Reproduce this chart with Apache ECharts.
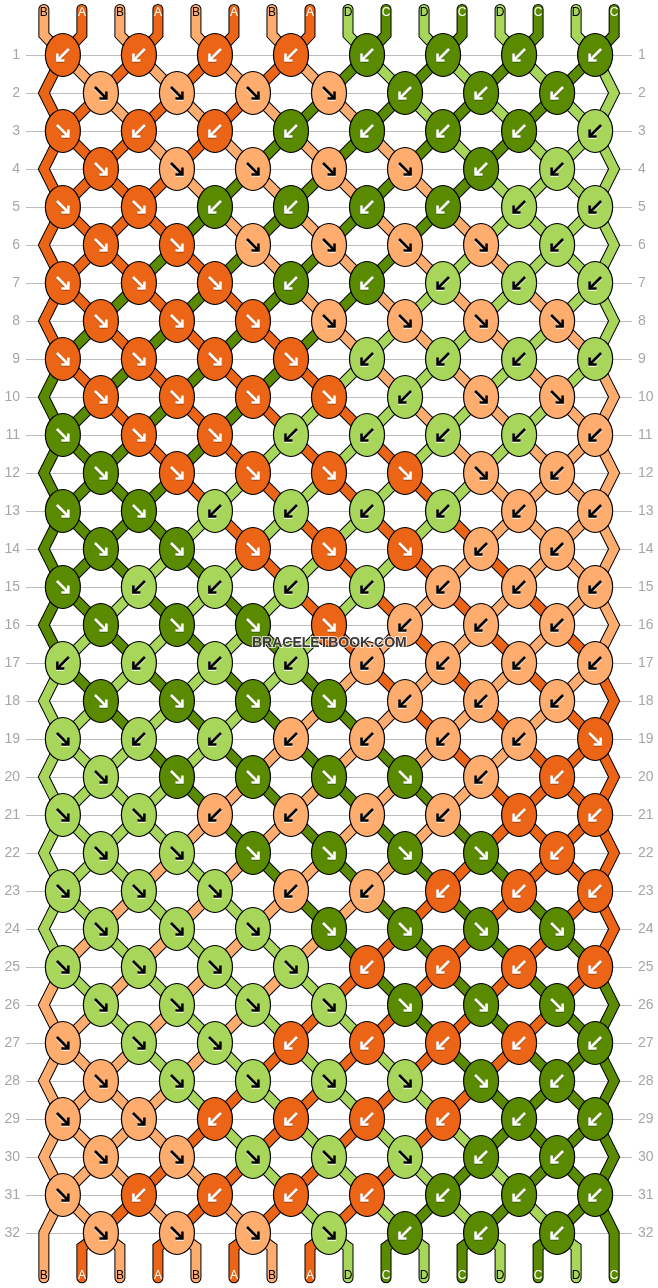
<!DOCTYPE html>
<html>
<head>
<meta charset="utf-8">
<title>Bracelet pattern</title>
<script src="https://cdn.jsdelivr.net/npm/echarts@6/dist/echarts.min.js"></script>
<style>
html, body { margin: 0; padding: 0; background: #fff; }
#main { width: 658px; height: 1288px; }
</style>
</head>
<body>
<div id="main"></div>
<script>
// strands as they enter at the top, left to right
var startStrands = 'BABABABADCDCDCDC';

// knot colour per row (letters are strands)
var knotColors = [
    'AAAACCCC', 'BBBBCCC', 'AAACCCCD', 'ABBBBCD',
    'AACCCCDD', 'AABBBBD', 'AAACCDDD', 'AAABBBB',
    'AAAADDDD', 'AAAADBB', 'CAADDDDB', 'CAAAABB',
    'CCDDDDBB', 'CCAAABB', 'CDDDDBBB', 'CCCABBB',
    'DDDDBBBB', 'CCCCBBB', 'DDDBBBBA', 'DCCCCBA',
    'DDBBBBAA', 'DDCCCCA', 'DDDBBAAA', 'DDDCCCC',
    'DDDDAAAA', 'DDDDCCC', 'BDDAAAAC', 'BDDDDCC',
    'BBAAAACC', 'BBDDDCC', 'BAAAACCC', 'BBBDCCC'
];

// knot arrow per row: L points down-left, R points down-right
var knotDirs = [
    'LLLLLLLL', 'RRRRLLL', 'RLLLLLLL', 'RRRRRLL',
    'RRLLLLLL', 'RRRRRRL', 'RRRLLLLL', 'RRRRRRR',
    'RRRRLLLL', 'RRRRLRR', 'RRRLLLLL', 'RRRRRRL',
    'RRLLLLLL', 'RRRRRLL', 'RLLLLLLL', 'RRRRLLL',
    'LLLLLLLL', 'RRRRLLL', 'RLLLLLLR', 'RRRRRLL',
    'RRLLLLLL', 'RRRRRRL', 'RRRLLLLL', 'RRRRRRR',
    'RRRRLLLL', 'RRRRRRR', 'RRRLLLLL', 'RRRRRRL',
    'RRLLLLLL', 'RRRRRLL', 'RLLLLLLL', 'RRRRLLL'
];

var rowLabels = [];
for (var n = 1; n <= 32; n++) rowLabels.push(n);

var fillColors = { A: '#ec6517', B: '#ffac6f', C: '#598a00', D: '#a8d65b' };
var isDark = { A: true, B: false, C: true, D: false };
var letters = 'ABCD';

// column of the knot a strand position falls in on a row, or the edge bend
function knotCol(row, pos) {
    if (row % 2 === 1) return pos - pos % 2;
    if (pos === 0) return -0.5;
    if (pos === startStrands.length - 1) return pos - 0.5;
    return pos % 2 === 1 ? pos : pos - 1;
}

// strands swap sides at every knot, walk each one down the rows
var strandPaths = [];
var endLabels = [];
startStrands.split('').forEach(function (name, s) {
    var pos = s;
    var path = [[pos - 0.5, -0.2], [pos - 0.5, 0.47]];
    rowLabels.forEach(function (row) {
        var col = knotCol(row, pos);
        path.push([col, row]);
        if (col === Math.floor(col)) pos = pos === col ? col + 1 : col;
    });
    path.push([pos - 0.5, 32.37], [pos - 0.5, 33.18]);
    strandPaths.push(path);
    endLabels.push(pos);
});

var strandData = [];
startStrands.split('').forEach(function (name, s) {
    strandData.push([s - 0.5, 1, letters.indexOf(name), endLabels[s] - 0.5]);
});

var knotData = [];
knotColors.forEach(function (colors, r) {
    colors.split('').forEach(function (c, i) {
        var col = r % 2 === 0 ? i * 2 : i * 2 + 1;
        knotData.push([col, r + 1, letters.indexOf(c), knotDirs[r][i] === 'L' ? 0 : 1]);
    });
});

function renderStrand(params, api) {
    var name = letters[api.value(2)];
    var points = strandPaths[params.dataIndex].map(function (p) { return api.coord(p); });
    var top = api.coord([api.value(0), 0]);
    var bottom = api.coord([api.value(3), 33]);
    var ink = isDark[name] ? '#fff' : '#000';
    var textFor = function (pt, dy) {
        return {
            type: 'text',
            style: {
                text: name, x: pt[0], y: pt[1] + dy,
                fill: ink, fontFamily: 'Liberation Sans', fontSize: 12,
                align: 'center', verticalAlign: 'middle'
            }
        };
    };
    return {
        type: 'group',
        children: [
            { type: 'polyline', shape: { points: points }, style: { fill: 'none', stroke: '#000', lineWidth: 11, lineCap: 'round', lineJoin: 'miter' } },
            { type: 'polyline', shape: { points: points }, style: { fill: 'none', stroke: fillColors[name], lineWidth: 9, lineCap: 'round', lineJoin: 'miter' } },
            textFor(top, -4),
            textFor(bottom, 5)
        ]
    };
}

function arrowLine(cx, cy, pts, color, width) {
    return {
        type: 'polyline',
        shape: { points: pts.map(function (p) { return [cx + p[0], cy + p[1]]; }) },
        style: { fill: 'none', stroke: color, lineWidth: width, lineJoin: 'miter', lineCap: 'butt' }
    };
}

function renderKnot(params, api) {
    var c = api.coord([api.value(0), api.value(1)]);
    var name = letters[api.value(2)];
    var down = api.value(3) === 1;
    var shaft = down ? [[-6, -6], [5, 5]] : [[6, -6], [-5, 5]];
    var head = down ? [[5.5, -1.5], [5.5, 5.5], [-1.5, 5.5]] : [[-5.5, -1.5], [-5.5, 5.5], [1.5, 5.5]];
    var ink = isDark[name] ? '#fff' : '#000';
    var halo = isDark[name] ? 'rgba(0,0,0,0.3)' : '#fff';
    return {
        type: 'group',
        children: [
            { type: 'ellipse', shape: { cx: c[0], cy: c[1], rx: 17.5, ry: 21.5 }, style: { fill: fillColors[name], stroke: '#000', lineWidth: 1.2 } },
            arrowLine(c[0], c[1] + 1, shaft, halo, 2.6),
            arrowLine(c[0], c[1] + 1, head, halo, 2.6),
            arrowLine(c[0], c[1], shaft, ink, 2.6),
            arrowLine(c[0], c[1], head, ink, 2.6)
        ]
    };
}

var rowAxis = {
    type: 'value',
    inverse: true,
    min: 1,
    max: 32,
    interval: 1,
    axisLine: { show: false },
    axisTick: { show: false },
    axisLabel: {
        color: '#a6a6a6',
        fontFamily: 'Liberation Sans',
        fontSize: 14,
        margin: 6,
        showMinLabel: true,
        showMaxLabel: true
    }
};

var myChart = echarts.init(document.getElementById('main'), null, { renderer: 'canvas' });
myChart.setOption({
    animation: false,
    backgroundColor: '#fff',
    title: {
        text: 'BRACELETBOOK.COM',
        left: 252,
        top: 636,
        padding: 0,
        textStyle: {
            color: 'rgba(40,40,40,0.9)',
            fontFamily: 'Liberation Sans',
            fontWeight: 'bold',
            fontSize: 14,
            textBorderColor: 'rgba(255,255,255,0.7)',
            textBorderWidth: 2
        }
    },
    grid: { left: 26, right: 26, top: 55, bottom: 55 },
    xAxis: { type: 'value', min: -0.97, max: 14.97, show: false, splitLine: { show: false } },
    yAxis: [
        Object.assign({}, rowAxis, {
            position: 'left',
            splitLine: { show: true, lineStyle: { color: '#bdbdbd', width: 1 } }
        }),
        Object.assign({}, rowAxis, {
            position: 'right',
            splitLine: { show: false }
        })
    ],
    series: [
        {
            type: 'custom',
            name: 'strands',
            renderItem: renderStrand,
            encode: { x: 0, y: 1 },
            data: strandData,
            z: 3,
            silent: true
        },
        {
            type: 'custom',
            name: 'knots',
            renderItem: renderKnot,
            encode: { x: 0, y: 1 },
            data: knotData,
            z: 4,
            silent: true
        }
    ]
});
</script>
</body>
</html>
